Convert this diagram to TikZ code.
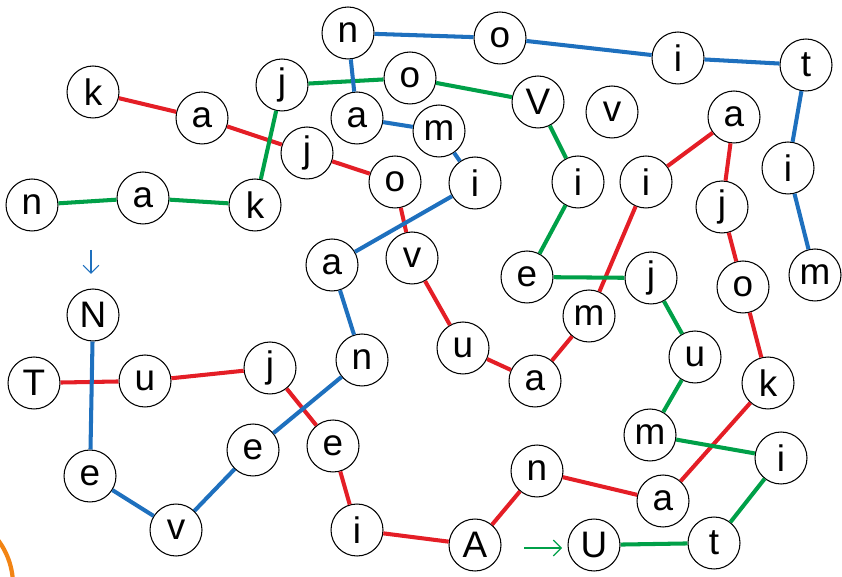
\documentclass[tikz,border=0pt]{standalone}
\usepackage{fontspec}
\setmainfont{Liberation Sans}
\usetikzlibrary{arrows.meta}
\definecolor{chainred}{RGB}{228,30,38}
\definecolor{chaingreen}{RGB}{0,160,72}
\definecolor{chainblue}{RGB}{30,112,190}
\definecolor{ringorange}{RGB}{242,132,20}
\tikzset{ball/.style={circle, draw, fill=white, line width=0.6pt, minimum size=1.04cm,
    inner sep=0pt, font=\fontsize{21}{23}\selectfont}}
\tikzset{chain/.style={draw=#1, line width=2.3pt}}
\tikzset{hint/.style={draw=#1, line width=0.7pt, -{Straight Barb[length=4.5pt, width=9pt]}}}

\begin{document}
\begin{tikzpicture}[x=0.02cm, y=-0.02cm]
  \useasboundingbox (0,0) rectangle (842,577);

  % ---- red chain
  \node[ball] at ( 93, 92) (r1)  {k};
  \node[ball] at (202,118) (r2)  {a};
  \node[ball] at (307,153) (r3)  {j};
  \node[ball] at (395,182) (r4)  {o};
  \node[ball] at (412,258) (r5)  {v};
  \node[ball] at (463,348) (r6)  {u};
  \node[ball] at (535,381) (r7)  {a};
  \node[ball] at (589,316) (r8)  {m};
  \node[ball] at (646,182) (r9)  {i};
  \node[ball] at (734,117) (r10) {a};
  \node[ball] at (722,207) (r11) {j};
  \node[ball] at (743,287) (r12) {o};
  \node[ball] at (768,383) (r13) {k};
  \node[ball] at (663,501) (r14) {a};
  \node[ball] at (537,471) (r15) {n};
  \node[ball] at (475,545) (r16) {A};
  \node[ball] at (357,530) (r17) {i};
  \node[ball] at (333,446) (r18) {e};
  \node[ball] at (270,368) (r19) {j};
  \node[ball] at (145,381) (r20) {u};
  \node[ball] at ( 34,383) (r21) {T};

  % ---- green chain
  \node[ball] at ( 32,205) (g1)  {n};
  \node[ball] at (143,198) (g2)  {a};
  \node[ball] at (255,205) (g3)  {k};
  \node[ball] at (282, 85) (g4)  {j};
  \node[ball] at (410, 78) (g5)  {o};
  \node[ball] at (538,102) (g6)  {V};
  \node[ball] at (578,182) (g7)  {i};
  \node[ball] at (527,277) (g8)  {e};
  \node[ball] at (651,278) (g9)  {j};
  \node[ball] at (695,357) (g10) {u};
  \node[ball] at (650,435) (g11) {m};
  \node[ball] at (781,458) (g12) {i};
  \node[ball] at (714,543) (g13) {t};
  \node[ball] at (594,545) (g14) {U};

  % ---- blue chain
  \node[ball] at ( 93,315) (b1)  {N};
  \node[ball] at ( 90,476) (b2)  {e};
  \node[ball] at (176,530) (b3)  {v};
  \node[ball] at (253,450) (b4)  {e};
  \node[ball] at (362,360) (b5)  {n};
  \node[ball] at (332,265) (b6)  {a};
  \node[ball] at (475,183) (b7)  {i};
  \node[ball] at (439,131) (b8)  {m};
  \node[ball] at (357,118) (b9)  {a};
  \node[ball] at (348, 33) (b10) {n};
  \node[ball] at (500, 38) (b11) {o};
  \node[ball] at (678, 58) (b12) {i};
  \node[ball] at (806, 65) (b13) {t};
  \node[ball] at (788,168) (b14) {i};
  \node[ball] at (815,275) (b15) {m};

  % ---- the loose one
  \node[ball] at (612,112) (lone) {v};

  % ================= links ==========================
  \foreach \i [count=\j from 2] in {1,...,20}
    \draw[chain=chainred] (r\i) -- (r\j);
  \foreach \i [count=\j from 2] in {1,...,13}
    \draw[chain=chaingreen] (g\i) -- (g\j);
  \foreach \i [count=\j from 2] in {1,...,14}
    \draw[chain=chainblue] (b\i) -- (b\j);

  % ================= start marks ====================
  \coordinate (downA) at (91,250);
  \coordinate (downB) at (91,274);
  \draw[hint=chainblue] (downA) -- (downB);
  \coordinate (rightA) at (524,548);
  \coordinate (rightB) at (562,548);
  \draw[hint=chaingreen] (rightA) -- (rightB);

  % piece of a ring cut by the edge
  \begin{scope}
    \clip (0,0) rectangle (842,577);
    \draw[ringorange, line width=2.4pt] (-62,585) circle[radius=75];
  \end{scope}
\end{tikzpicture}
\end{document}
